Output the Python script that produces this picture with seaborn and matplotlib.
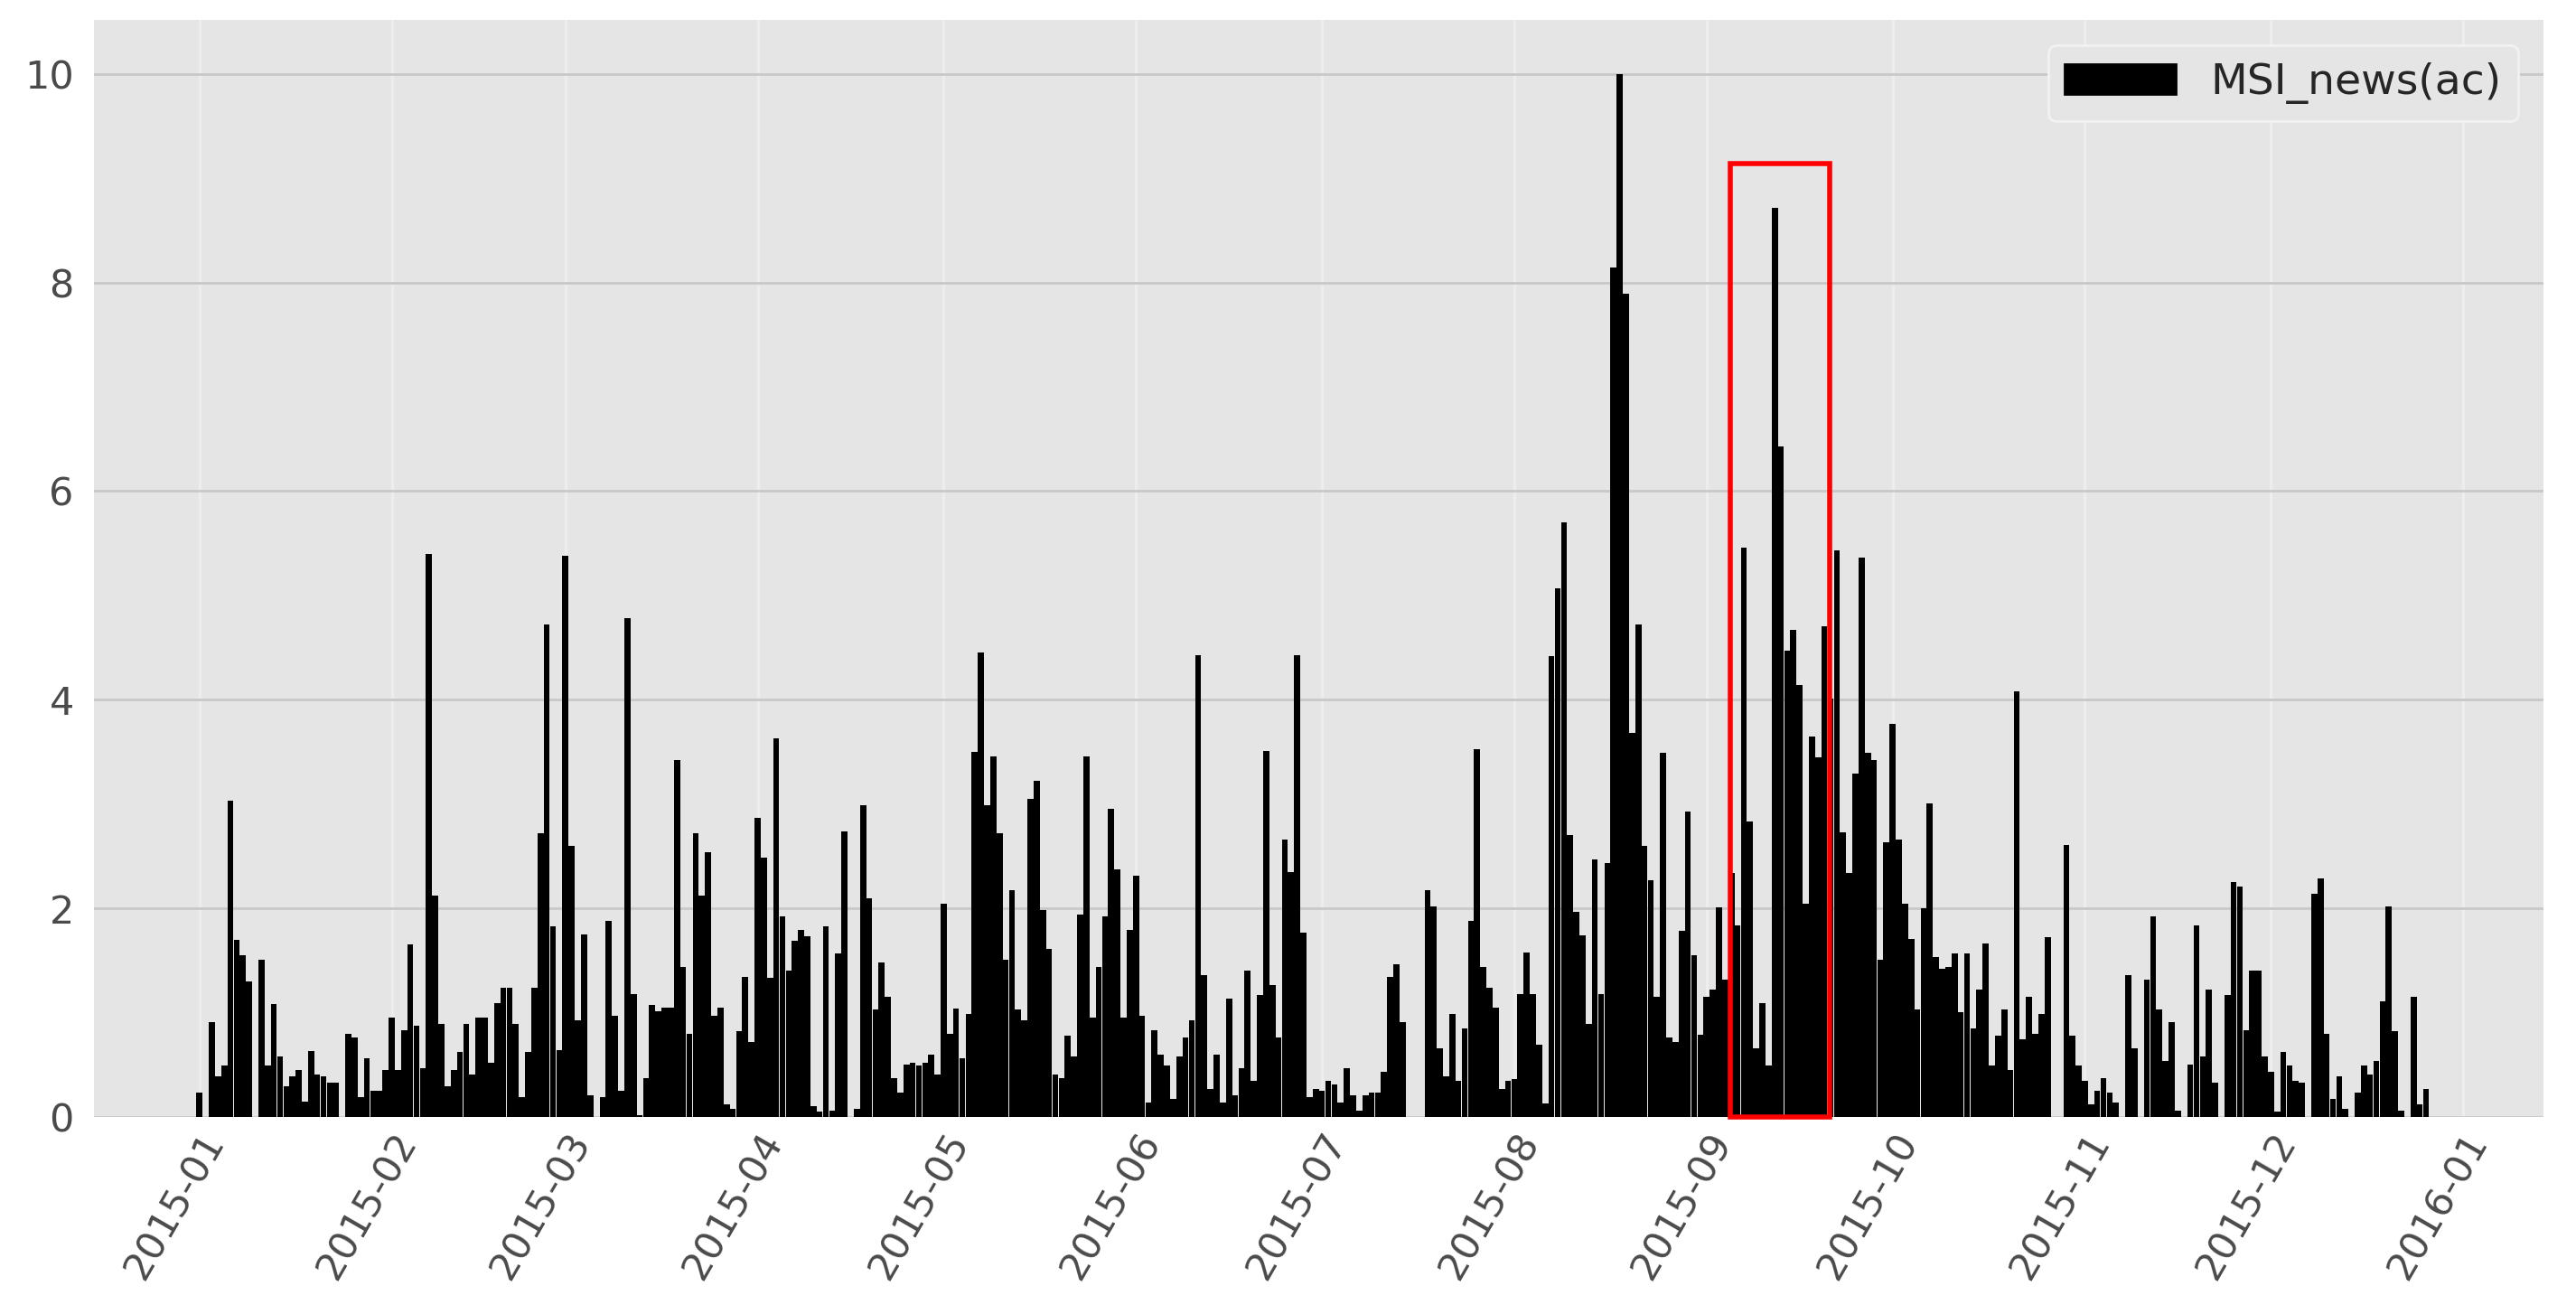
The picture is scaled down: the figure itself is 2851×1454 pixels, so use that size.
import numpy as np
import pandas as pd
import matplotlib
matplotlib.use("Agg")
import matplotlib.pyplot as plt
import matplotlib.dates as mdates
from matplotlib.patches import Rectangle, Patch
import seaborn as sns

# ---------- daily values (one list per month) ----------
jan = [0.23, 0, 0.91, 0.39, 0.49, 3.03, 1.70, 1.55, 1.30, 0, 1.51, 0.49, 1.08, 0.58, 0.29, 0.39,
       0.45, 0.15, 0.63, 0.41, 0.39, 0.33, 0.33, 0, 0.80, 0.76, 0.19, 0.56, 0.25, 0.25, 0.45]
feb = [0.95, 0.45, 0.83, 1.65, 0.87, 0.47, 5.40, 2.12, 0.89, 0.29, 0.45, 0.62, 0.89, 0.41,
       0.95, 0.95, 0.52, 1.09, 1.24, 1.24, 0.89, 0.19, 0.62, 1.24, 2.72, 4.72, 1.83, 0.64]
mar = [5.38, 2.60, 0.93, 1.75, 0.21, 0, 0.19, 1.88, 0.97, 0.25, 4.78, 1.18, 0.02, 0.37, 1.07, 1.01,
       1.05, 1.05, 3.42, 1.44, 0.80, 2.72, 2.12, 2.54, 0.97, 1.05, 0.12, 0.08, 0.82, 1.34, 0.72]
apr = [2.87, 2.49, 1.33, 3.63, 1.92, 1.40, 1.69, 1.79, 1.73, 0.10, 0.05, 1.83, 0.06, 1.57, 2.74,
       0.0, 0.08, 2.99, 2.10, 1.03, 1.48, 1.15, 0.37, 0.23, 0.50, 0.52, 0.49, 0.52, 0.60, 0.41]
may = [2.04, 0.80, 1.04, 0.56, 0.99, 3.50, 4.45, 2.99, 3.46, 2.72, 1.51, 2.17, 1.03, 0.93, 3.05, 3.22,
       1.98, 1.61, 0.41, 0.37, 0.78, 0.58, 1.94, 3.46, 0.95, 1.44, 1.92, 2.95, 2.37, 0.95, 1.79]
jun = [2.31, 0.97, 0.14, 0.83, 0.60, 0.49, 0.17, 0.58, 0.76, 0.93, 4.43, 1.36, 0.27, 0.60, 0.14,
       1.13, 0.21, 0.47, 1.40, 0.35, 1.17, 3.51, 1.26, 0.76, 2.66, 2.35, 4.43, 1.77, 0.19, 0.27]
jul = [0.25, 0.35, 0.31, 0.14, 0.47, 0.21, 0.06, 0.21, 0.23, 0.23, 0.43, 1.34, 1.46, 0.91, 0, 0,
       0, 2.17, 2.02, 0.66, 0.39, 0.99, 0.35, 0.85, 1.88, 3.53, 1.44, 1.24, 1.05, 0.27, 0.35]
aug = [0.36, 1.18, 1.58, 1.18, 0.69, 0.13, 4.42, 5.07, 5.70, 2.70, 1.97, 1.74, 0.89, 2.47, 1.18, 2.43,
       8.14, 10.0, 7.89, 3.68, 4.72, 2.60, 2.27, 1.15, 3.49, 0.76, 0.72, 1.78, 2.93, 1.55, 0.79]
sep = [1.15, 1.22, 2.01, 1.32, 2.34, 1.84, 5.46, 2.83, 0.66, 1.09, 0.49, 8.72, 6.43, 4.47, 4.67,
       4.14, 2.04, 3.65, 3.45, 4.70, 4.01, 5.43, 2.73, 2.34, 3.29, 5.36, 3.49, 3.42, 1.51, 2.63]
oct_ = [3.77, 2.66, 2.04, 1.71, 1.03, 2.00, 3.01, 1.53, 1.42, 1.44, 1.57, 1.00, 1.57, 0.85, 1.22, 1.66,
        0.49, 0.78, 1.03, 0.45, 4.08, 0.74, 1.15, 0.80, 0.99, 1.72, 0, 0, 2.61, 0.78, 0.49]
nov = [0.35, 0.12, 0.25, 0.37, 0.23, 0.14, 0, 1.36, 0.66, 0, 1.32, 1.92, 1.03, 0.54, 0.91,
       0.06, 0, 0.50, 1.84, 0.58, 1.22, 0.33, 0, 1.17, 2.25, 2.21, 0.83, 1.40, 1.40, 0.58]
dec = [0.43, 0.05, 0.62, 0.49, 0.35, 0.33, 0, 2.14, 2.29, 0.80, 0.17, 0.39, 0.08, 0, 0.23, 0.49,
       0.41, 0.54, 1.11, 2.02, 0.82, 0.06, 0, 1.15, 0.12, 0.27]

month_starts = ["2015-01-01", "2015-02-01", "2015-03-01", "2015-04-01", "2015-05-01", "2015-06-01",
                "2015-07-01", "2015-08-01", "2015-09-01", "2015-10-01", "2015-11-01", "2015-12-01"]
monthly = [jan, feb, mar, apr, may, jun, jul, aug, sep, oct_, nov, dec]

# highlighted window (red box)
box_start, box_end, box_top = "2015-09-04 19:00", "2015-09-20 19:00", 9.14

# ---------- build frame ----------
dates, vals = [], []
for start, v in zip(month_starts, monthly):
    dates += list(pd.date_range(start, periods=len(v), freq="D"))
    vals += v
df = pd.DataFrame({"date": dates, "value": vals})
df["x"] = mdates.date2num(df["date"])

# ---------- plot ----------
sns.set_style("darkgrid", {"axes.facecolor": "#E5E5E5"})
plt.rcParams["font.family"] = ["DejaVu Sans"]

fig = plt.figure(figsize=(14.255, 7.27), dpi=200)
ax = fig.add_axes([0.0365, 0.15, 0.951, 0.835])

sns.barplot(data=df, x="x", y="value", native_scale=True, width=0.97,
            color="black", saturation=1, errorbar=None, linewidth=0, ax=ax)

ax.set_xlim(mdates.datestr2num("2014-12-15"), mdates.datestr2num("2016-01-14"))
ax.set_ylim(0, 10.52)
ax.xaxis.set_major_locator(mdates.MonthLocator())
ax.xaxis.set_major_formatter(mdates.DateFormatter("%Y-%m"))
ax.set_yticks([0, 2, 4, 6, 8, 10])
ax.set_xlabel("")
ax.set_ylabel("")

ax.yaxis.grid(True, color="#c8c8c8", lw=1.0)
ax.xaxis.grid(True, color="#ededed", lw=1.2)
for s in ax.spines.values():
    s.set_visible(False)
ax.tick_params(axis="both", length=0, labelsize=15.5, labelcolor="#4a4a4a")
ax.tick_params(axis="y", pad=8)
plt.setp(ax.get_xticklabels(), rotation=60, ha="right", rotation_mode="anchor")

# red box
x0 = mdates.datestr2num(box_start)
x1 = mdates.datestr2num(box_end)
ax.add_patch(Rectangle((x0, 0), x1 - x0, box_top, fill=False, edgecolor="#ff0000",
                       lw=2.0, clip_on=False, zorder=5))

ax.legend(handles=[Patch(fc="black", ec="black", label="MSI_news(ac)")],
          loc="upper right", fontsize=17, handlelength=2.6, frameon=True,
          facecolor="#E5E5E5", edgecolor="#f2f2f2", framealpha=1,
          borderaxespad=0.6)

fig.savefig("out.png", dpi=200)
